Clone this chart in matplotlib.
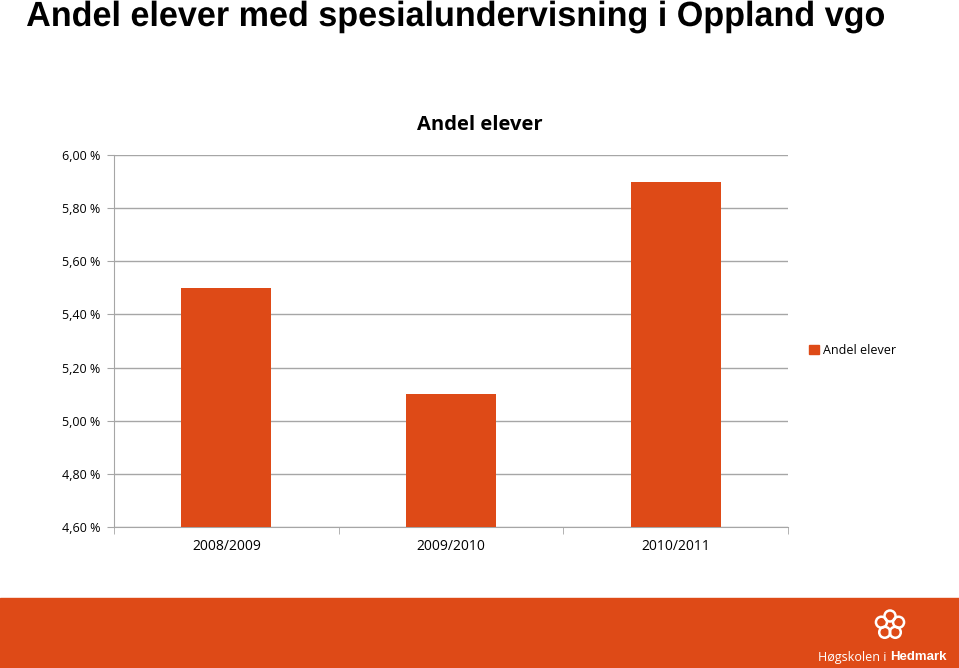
import matplotlib.pyplot as plt
import matplotlib.patches as mpatches
from matplotlib.textpath import TextPath
from matplotlib.font_manager import FontProperties
from matplotlib.transforms import Affine2D
import numpy as np

years = ['2008/2009', '2009/2010', '2010/2011']
andel = [5.50, 5.10, 5.90]
yticks = [4.6, 4.8, 5.0, 5.2, 5.4, 5.6, 5.8, 6.0]

orange = '#DE4A17'
grid = '#A6A6A6'

fig = plt.figure(figsize=(9.59, 6.68), dpi=100)
ax = fig.add_axes([114/959, 1-527/668, 674/959, 372/668])

x = np.arange(len(years))
ax.bar(x, [v - 4.6 for v in andel], bottom=4.6, width=0.4, color=orange, zorder=3)
ax.set_xlim(-0.5, 2.5)
ax.set_ylim(4.6, 6.0)
ax.set_yticks(yticks)
ax.set_yticklabels([('%.2f' % t).replace('.', ',') + ' %' for t in yticks],
                   fontsize=9, family='Open Sans')
ax.set_xticks(x)
ax.set_xticklabels(years, fontsize=10, family='Open Sans')
ax.set_xticks([-0.5, 0.5, 1.5, 2.5], minor=True)
ax.tick_params(axis='x', which='major', length=0, pad=9)
ax.tick_params(axis='x', which='minor', length=5, color=grid)
ax.tick_params(axis='y', length=5, color=grid, pad=5)
ax.yaxis.grid(True, color=grid, linewidth=1, zorder=0)
for s in ['top', 'right']:
    ax.spines[s].set_visible(False)
for s in ['left', 'bottom']:
    ax.spines[s].set_color(grid)

fig.text(480/959, 1-125/668, 'Andel elever', fontsize=14.5, fontweight='bold',
         family='Open Sans', ha='center', va='center')

ax.legend([mpatches.Patch(color=orange)], ['Andel elever'],
          loc='center left', bbox_to_anchor=(1.015, 0.475), frameon=False,
          prop={'family': 'Open Sans', 'size': 9}, handlelength=0.8,
          handleheight=0.8, handletextpad=0.3)

# narrow bold title, drawn as a path squeezed horizontally
title = 'Andel elever med spesialundervisning i Oppland vgo'
tp = TextPath((0, 0), title, size=35, prop=FontProperties(family='Liberation Sans', weight='bold'))
ext = tp.get_extents()
sx = 857 / ext.width
tr = Affine2D().translate(-ext.x0, 0).scale(sx, 1).translate(27, 668 - 26)
fig.patches.append(mpatches.PathPatch(tr.transform_path(tp), color='black', lw=0,
                                      transform=None))

# bottom band
fig.patches.append(mpatches.Rectangle((0, 0), 1, 70/668, transform=fig.transFigure,
                                      color=orange, zorder=0))
fig.text(890/959, 1-657/668, 'Høgskolen i ', fontsize=9, color='white', ha='right',
         va='center', family='Open Sans')
fig.text(890/959, 1-657/668, 'Hedmark', fontsize=9.5, color='white', fontweight='bold',
         ha='left', va='center', family='Liberation Sans')
# logo: ring of circles
cx, cy = 890, 625
for k in range(5):
    a = np.pi/2 + k * 2*np.pi/5
    px, py = cx + 9*np.cos(a), cy - 9*np.sin(a)
    fig.patches.append(mpatches.Ellipse((px/959, 1-py/668), 11/959, 11/668,
                                        transform=fig.transFigure, fill=False,
                                        edgecolor='white', linewidth=1.8))

fig.savefig('out.png', dpi=100)
